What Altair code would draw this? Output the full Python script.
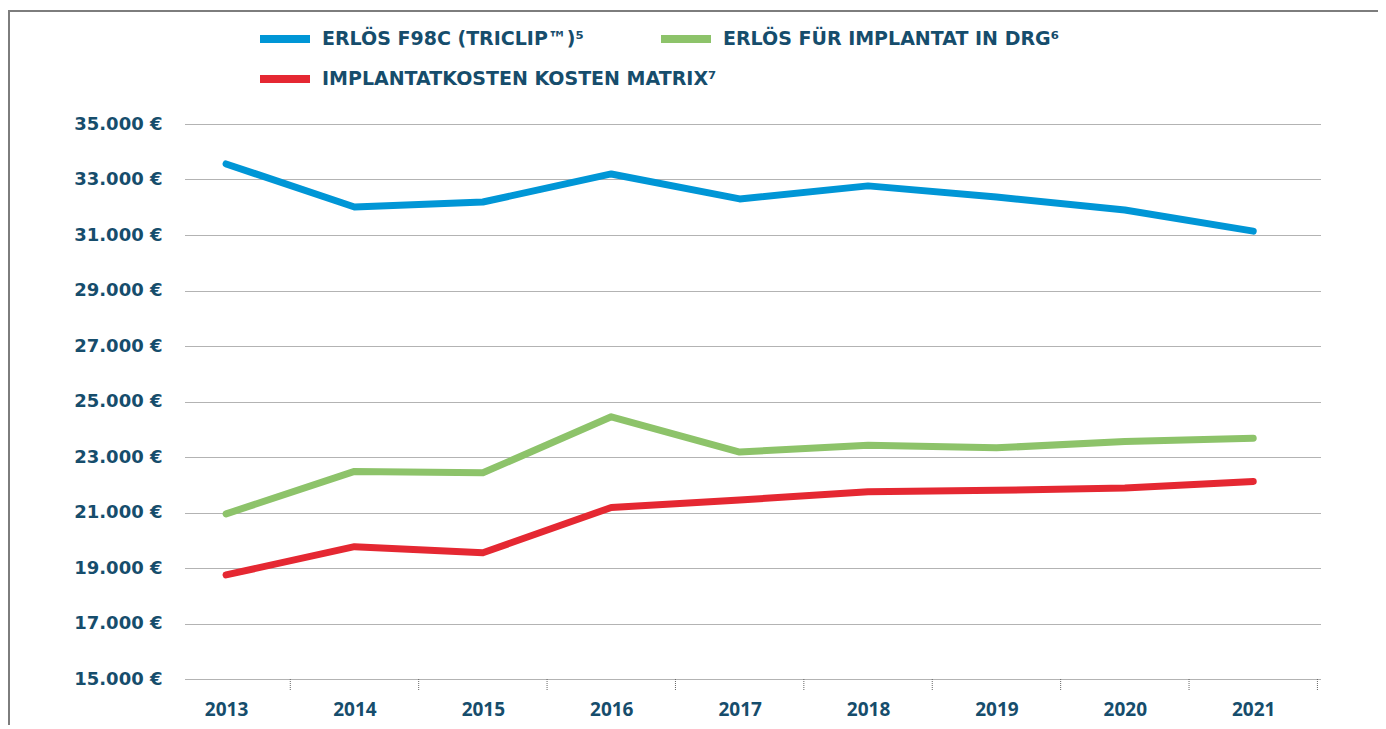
import altair as alt
import pandas as pd

# ---- data ----
years = [2013, 2014, 2015, 2016, 2017, 2018, 2019, 2020, 2021]
series_names = [
    "ERLÖS F98C (TRICLIP™)⁵",
    "ERLÖS FÜR IMPLANTAT IN DRG⁶",
    "IMPLANTATKOSTEN KOSTEN MATRIX⁷",
]
erloes_f98c = [33560, 32010, 32190, 33200, 32300, 32770, 32370, 31900, 31140]
erloes_drg = [20950, 22480, 22430, 24450, 23180, 23420, 23330, 23560, 23680]
implantatkosten = [18750, 19770, 19550, 21180, 21450, 21750, 21800, 21880, 22120]
y_ticks = [15000, 17000, 19000, 21000, 23000, 25000, 27000, 29000, 31000, 33000, 35000]
colors = ["#0096d6", "#8dc36a", "#e52832"]

TEXT = "#164d6c"
GRID = "#666666"
W, H = 1135, 555

df = pd.DataFrame({
    "Jahr": years * 3,
    "Wert": erloes_f98c + erloes_drg + implantatkosten,
    "Serie": [series_names[0]] * len(years) + [series_names[1]] * len(years) + [series_names[2]] * len(years),
})
df_years = pd.DataFrame({"Jahr": years})

x_scale = alt.Scale(domain=[2012.68, 2021.52], nice=False, zero=False)
y_scale = alt.Scale(domain=[15000, 35000], nice=False, zero=False)


def x_enc(field):
    return alt.X(
        f"{field}:Q",
        scale=x_scale,
        axis=alt.Axis(
            values=years, format="d", grid=False, domain=False, ticks=False,
            labelPadding=21, labelFont="Open Sans", labelFontWeight="bold",
            labelFontSize=19, labelColor=TEXT, title=None,
        ),
    )


def y_enc():
    return alt.Y(
        "Wert:Q",
        scale=y_scale,
        axis=alt.Axis(
            values=y_ticks,
            labelExpr="replace(format(datum.value, ','), ',', '.') + ' €'",
            grid=True, gridDash=[1, 1], gridColor=GRID, gridWidth=1,
            domain=False, ticks=False, labelPadding=23,
            labelFont="DejaVu Sans", labelFontWeight="bold", labelFontSize=18,
            labelColor=TEXT, title=None,
        ),
    )


def legend(lx, ly):
    return alt.Legend(
        title=None, orient="none", legendX=lx, legendY=ly,
        direction="horizontal", columns=2,
        symbolType="stroke", symbolSize=2500, symbolStrokeWidth=8,
        labelFont="DejaVu Sans", labelFontWeight="bold", labelFontSize=19,
        labelColor=TEXT, labelLimit=700, labelOffset=8,
        columnPadding=61, padding=0,
    )


line_style = dict(strokeWidth=7, strokeCap="round", strokeJoin="round")

lines_a = alt.Chart(df).transform_filter(
    alt.FieldOneOfPredicate(field="Serie", oneOf=series_names[:2])
).mark_line(**line_style).encode(
    x=x_enc("Jahr"),
    y=y_enc(),
    color=alt.Color(
        "Serie:N",
        scale=alt.Scale(domain=series_names[:2], range=colors[:2]),
        legend=legend(71, -114),
    ),
)

lines_b = alt.Chart(df).transform_filter(
    alt.FieldEqualPredicate(field="Serie", equal=series_names[2])
).mark_line(**line_style).encode(
    x=x_enc("Jahr"),
    y=y_enc(),
    color=alt.Color(
        "Serie:N",
        scale=alt.Scale(domain=series_names[2:], range=colors[2:]),
        legend=legend(71, -74),
    ),
)

ticks = alt.Chart(df_years).transform_calculate(
    Tick="datum.Jahr + 0.5"
).mark_rule(color=GRID, strokeWidth=1, strokeDash=[1, 1]).encode(
    x=x_enc("Tick"),
    y=alt.value(H),
    y2=alt.value(H + 11),
)

frame = alt.Chart(pd.DataFrame({"a": [0]})).mark_rect(
    fillOpacity=0, stroke="#7d7d7d", strokeWidth=2
).encode(
    x=alt.value(-176), x2=alt.value(1197),
    y=alt.value(-113), y2=alt.value(H + 200),
)

chart = alt.layer(frame, ticks, lines_a, lines_b).resolve_scale(
    color="independent"
).properties(
    width=W, height=H,
    autosize=alt.AutoSizeParams(type="none"),
    padding={"left": 177, "top": 116, "right": 58, "bottom": 46},
    background="white",
).configure_view(stroke=None)

chart.save("out.html", embed_options={"renderer": "svg", "actions": False})
